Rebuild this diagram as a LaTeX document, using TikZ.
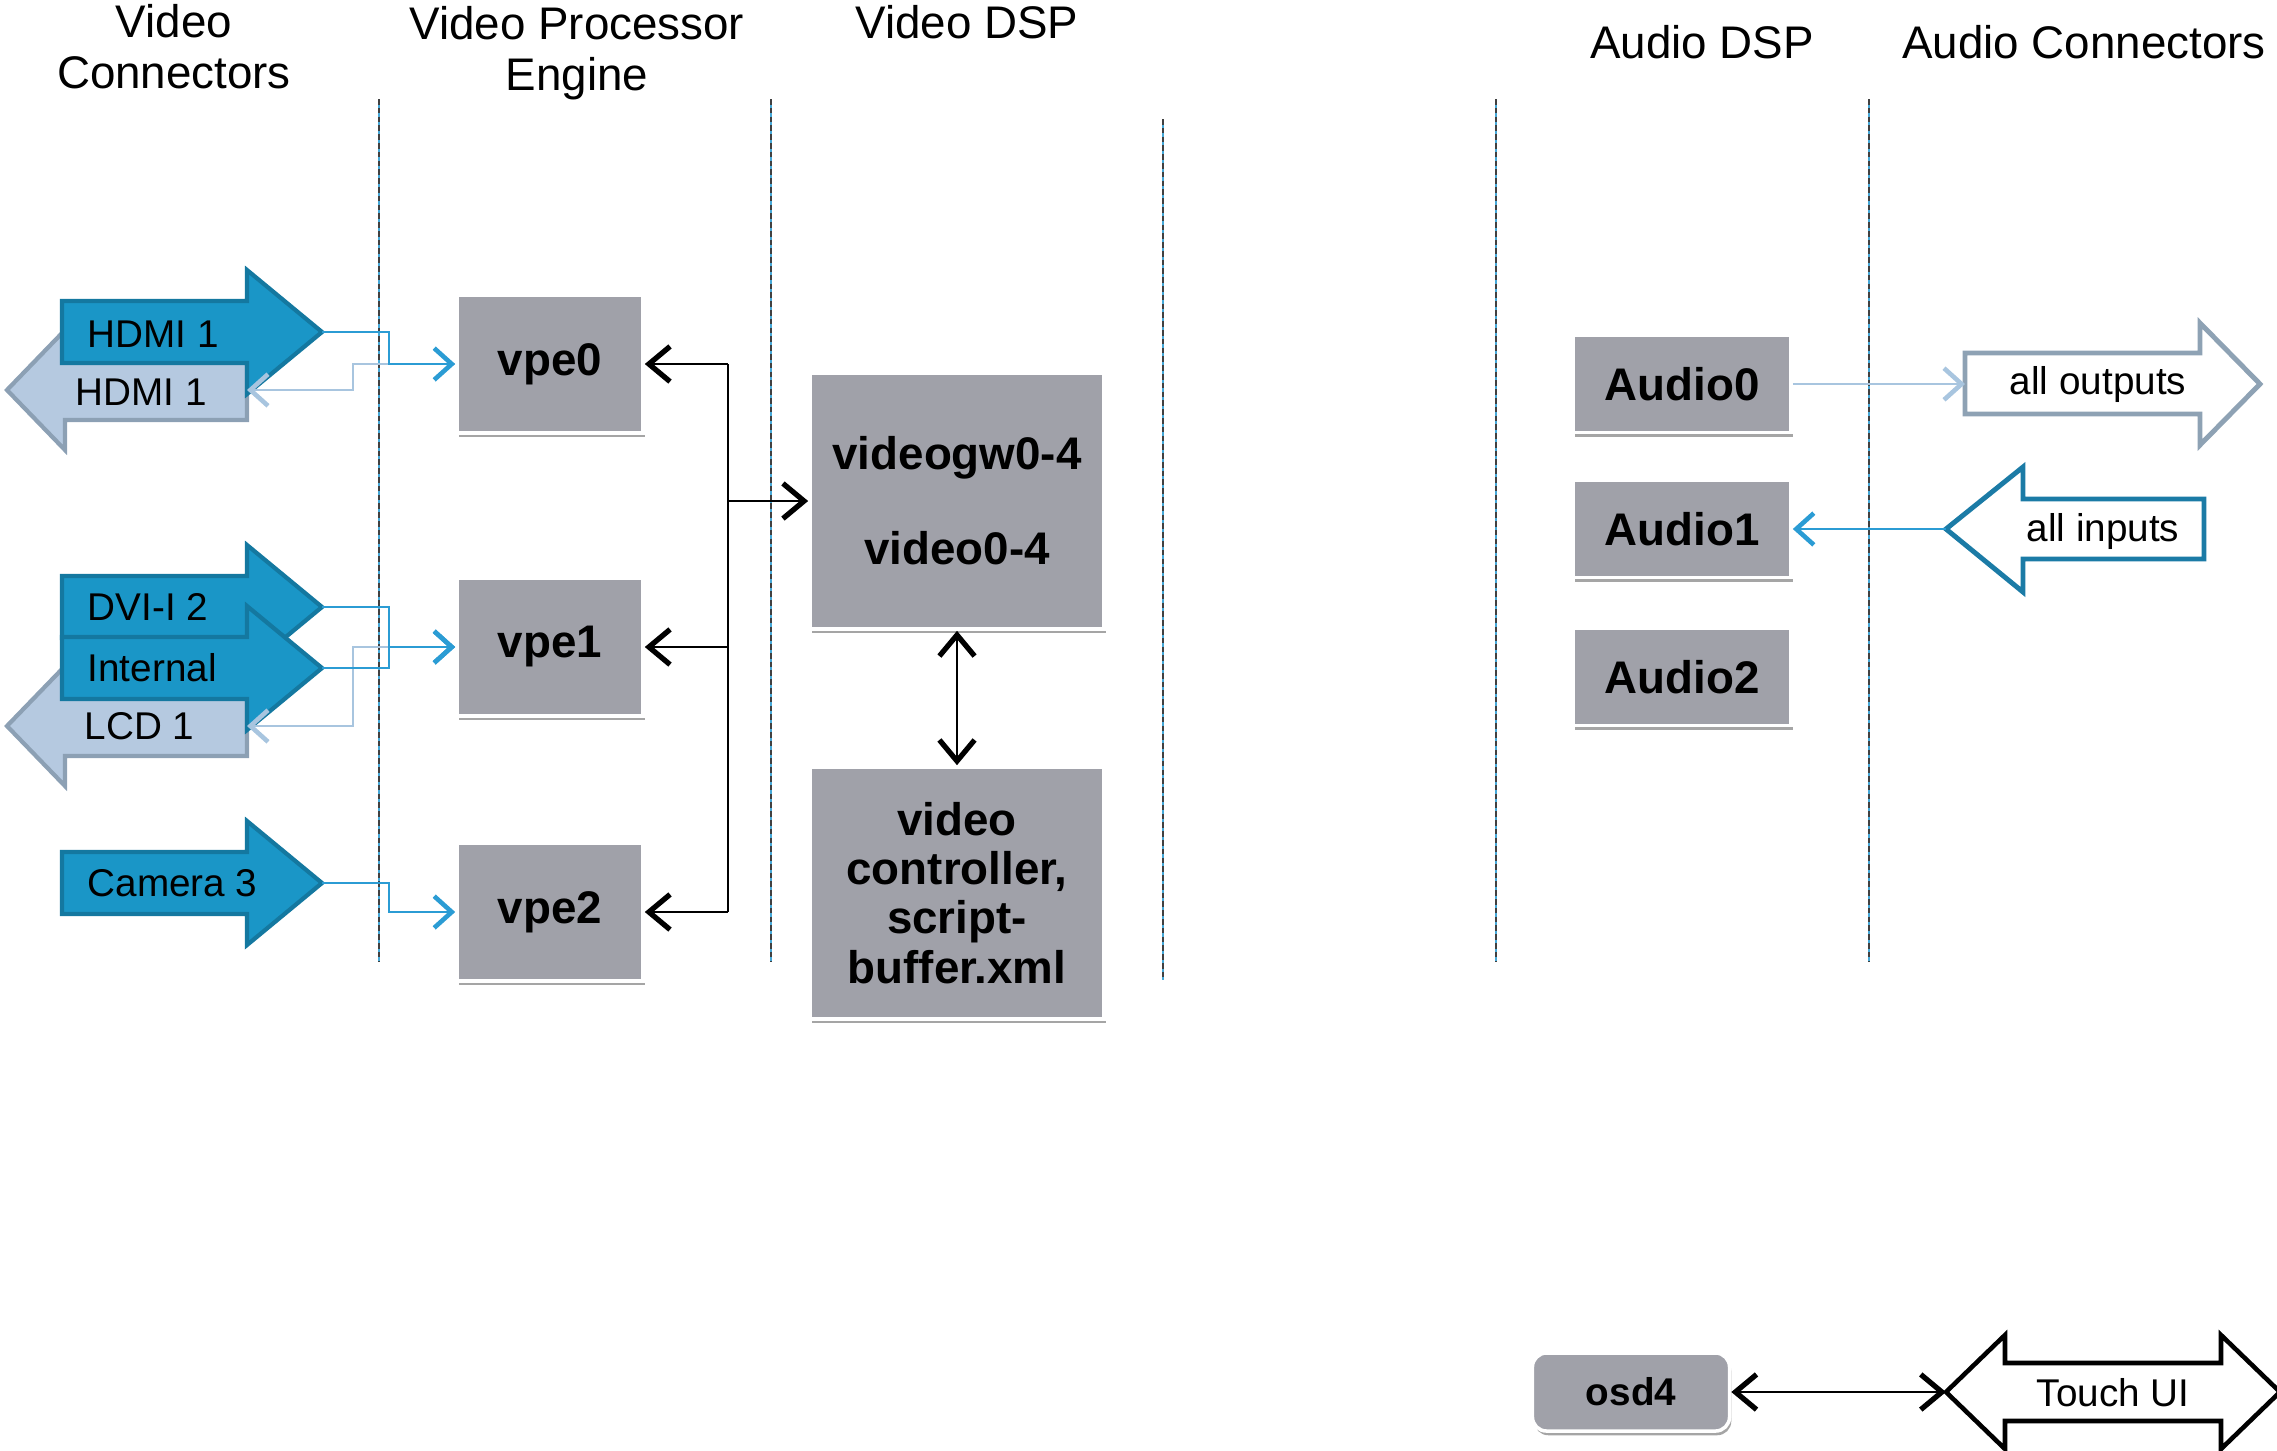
\documentclass[tikz,border=0pt]{standalone}
\usepackage{fontspec}
\setmainfont{Liberation Sans}
\usetikzlibrary{arrows.meta,shadows}
\definecolor{boxgray}{RGB}{160,161,169}
\definecolor{dkblue}{RGB}{26,150,199}
\definecolor{dkblueedge}{RGB}{20,120,160}
\definecolor{ltblue}{RGB}{181,201,224}
\definecolor{ltblueedge}{RGB}{140,160,180}
\definecolor{lineblue}{RGB}{43,156,212}
\definecolor{linepale}{RGB}{168,197,223}
\definecolor{outgray}{RGB}{142,162,180}
\definecolor{inteal}{RGB}{27,123,166}
\definecolor{divblue}{RGB}{69,168,216}
\definecolor{divgray}{RGB}{64,64,64}

\begin{document}
\begin{tikzpicture}[x=0.01cm,y=-0.01cm]
\tikzstyle{every node}+=[inner sep=0pt]
\tikzstyle{gbox}=[draw=white, line width=1pt, fill=boxgray, drop shadow={shadow xshift=0.5pt,shadow yshift=-1.2pt,opacity=0.5,fill=black!70}, font=\bfseries\fontsize{13}{14}\selectfont, align=center]
\tikzstyle{colhead}=[font=\fontsize{13}{14.5}\selectfont, align=center]
\tikzstyle{atext}=[font=\fontsize{11}{13}\selectfont]
\tikzstyle{inarrow}=[fill=dkblue, draw=dkblueedge, line width=1.2pt]
\tikzstyle{outarrow}=[fill=ltblue, draw=ltblueedge, line width=1.2pt]
\tikzstyle{blueline}=[draw=lineblue, line width=0.6pt, -{Straight Barb[length=5pt,width=9pt,line width=1.3pt]}]
\tikzstyle{paleline}=[draw=linepale, line width=0.6pt, -{Straight Barb[length=5pt,width=9pt,line width=1.3pt]}]
\tikzstyle{blackline}=[black, line width=0.6pt, -{Straight Barb[length=6pt,width=10pt,line width=1.5pt]}]
\tikzstyle{blackboth}=[black, line width=0.6pt, {Straight Barb[length=6pt,width=10pt,line width=1.5pt]}-{Straight Barb[length=6pt,width=10pt,line width=1.5pt]}]
\useasboundingbox (0,0) rectangle (2277,1450);

\node (hvc) [colhead] at (174,47) {Video\\Connectors};
\node (hvpe) [colhead] at (577,53) {Video Processor\\Engine};
\node (hvdsp) [colhead] at (967,22) {Video DSP};
\node (hadsp) [colhead] at (1702,42) {Audio DSP};
\node (hac) [colhead] at (2084,42) {Audio Connectors};

\draw [divblue, line width=0.5pt] (379,99) -- (379,961) (771,99) -- (771,961) (1163,119) -- (1163,980) (1496,99) -- (1496,961) (1869,99) -- (1869,961);
\draw [divgray, line width=0.7pt, dash pattern=on 1.6pt off 0.9pt] (379,99) -- (379,961) (771,99) -- (771,961) (1163,119) -- (1163,980) (1496,99) -- (1496,961) (1869,99) -- (1869,961);

\draw [outarrow] (247,360) -- (65,360) -- (65,330) -- (7,390) -- (65,450) -- (65,420) -- (247,420) -- cycle;
\node (hdmiouttxt) [atext, anchor=west] at (75,392) {HDMI 1};
\coordinate (hdmiout) at (247,390);
\draw [outarrow] (247,696) -- (65,696) -- (65,666) -- (7,726) -- (65,786) -- (65,756) -- (247,756) -- cycle;
\node (lcdtxt) [atext, anchor=west] at (84,726) {LCD 1};
\coordinate (lcd) at (247,726);

\draw [inarrow] (62,301) -- (247,301) -- (247,270) -- (322,332) -- (247,394) -- (247,363) -- (62,363) -- cycle;
\node (hdmiintxt) [atext, anchor=west] at (87,334) {HDMI 1};
\coordinate (hdmiin) at (322,332);
\draw [inarrow] (62,576) -- (247,576) -- (247,545) -- (322,607) -- (247,669) -- (247,638) -- (62,638) -- cycle;
\node (dvitxt) [atext, anchor=west] at (87,607) {DVI-I 2};
\coordinate (dvi) at (322,607);
\draw [inarrow] (62,637) -- (247,637) -- (247,606) -- (322,668) -- (247,730) -- (247,699) -- (62,699) -- cycle;
\node (inttxt) [atext, anchor=west] at (87,668) {Internal};
\coordinate (internal) at (322,668);
\draw [inarrow] (62,852) -- (247,852) -- (247,821) -- (322,883) -- (247,945) -- (247,914) -- (62,914) -- cycle;
\node (camtxt) [atext, anchor=west] at (87,883) {Camera 3};
\coordinate (camera) at (322,883);

\node (vpe0) [gbox, minimum width=1.86cm, minimum height=1.38cm] at (550,364) {vpe0};
\node (vpe1) [gbox, minimum width=1.86cm, minimum height=1.38cm] at (550,647) {vpe1};
\node (vpe2) [gbox, minimum width=1.86cm, minimum height=1.38cm] at (550,912) {vpe2};
\node (vgw) [gbox, minimum width=2.94cm, minimum height=2.56cm] at (957,501) {videogw0-4\\[13pt]video0-4};
\node (vctl) [gbox, minimum width=2.94cm, minimum height=2.52cm] at (957,893) {video\\controller,\\script-\\buffer.xml};
\node (aud0) [gbox, minimum width=2.18cm, minimum height=0.97cm] at (1682,384) {Audio0};
\node (aud1) [gbox, minimum width=2.18cm, minimum height=0.97cm] at (1682,529) {Audio1};
\node (aud2) [gbox, minimum width=2.18cm, minimum height=0.97cm] at (1682,677) {Audio2};
\node (osd) [gbox, rounded corners=4pt, minimum width=1.97cm, minimum height=0.78cm, font=\bfseries\fontsize{11}{13}\selectfont] at (1631,1392) {osd4};

\coordinate (pbus) at (353,0);
\coordinate (vbus) at (389,0);
\coordinate (bbus) at (728,0);
\draw [paleline] (vpe0.west) -| (pbus |- hdmiout) -- (hdmiout);
\draw [paleline] (vpe1.west) -| (pbus |- lcd) -- (lcd);
\draw [blueline] (hdmiin) -| (vbus |- vpe0.west) -- (vpe0.west);
\draw [blueline] (dvi) -| (vbus |- vpe1.west) -- (vpe1.west);
\draw [blueline] (internal) -| (vbus |- vpe1.west) -- (vpe1.west);
\draw [blueline] (camera) -| (vbus |- vpe2.west) -- (vpe2.west);

\draw [black, line width=0.6pt] (bbus |- vpe0.east) -- (bbus |- vpe2.east);
\draw [blackline] (bbus |- vpe0.east) -- (vpe0.east);
\draw [blackline] (bbus |- vpe1.east) -- (vpe1.east);
\draw [blackline] (bbus |- vpe2.east) -- (vpe2.east);
\draw [blackline] (bbus |- vgw.west) -- (vgw.west);
\draw [blackboth] (vgw.south) -- (vctl.north);

\draw [draw=outgray, line width=1.4pt, fill=white] (1965,353) -- (2200,353) -- (2200,323) -- (2260,384) -- (2200,445) -- (2200,414) -- (1965,414) -- cycle;
\node (allouttxt) [atext] at (2098,384) {all outputs};
\coordinate (allout) at (1965,384);
\draw [draw=inteal, line width=1.4pt, fill=white] (1946,529) -- (2023,467) -- (2023,499) -- (2204,499) -- (2204,559) -- (2023,559) -- (2023,592) -- cycle;
\node (allintxt) [atext] at (2103,531) {all inputs};
\coordinate (allin) at (1946,529);
\draw [paleline] (aud0.east) -- (allout);
\draw [blueline] (allin) -- (aud1.east);

\draw [black, line width=1.3pt, fill=white] (1946,1392) -- (2005,1335) -- (2005,1363) -- (2221,1363) -- (2221,1335) -- (2280,1392) -- (2221,1449) -- (2221,1421) -- (2005,1421) -- (2005,1449) -- cycle;
\node (touchtxt) [atext] at (2113,1393) {Touch UI};
\coordinate (touch) at (1946,1392);
\draw [blackboth] (osd.east) -- (touch);
\end{tikzpicture}
\end{document}
